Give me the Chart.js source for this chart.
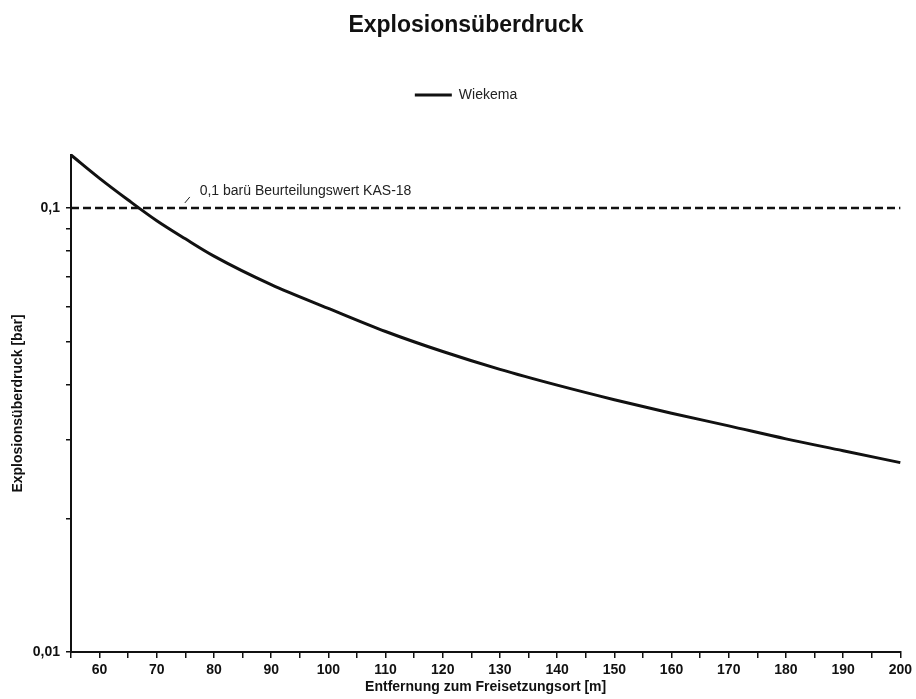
<!DOCTYPE html>
<html>
<head>
<meta charset="utf-8">
<script src="https://cdn.jsdelivr.net/npm/chart.js@4/dist/chart.umd.min.js"></script>
<style>
  html, body { margin: 0; padding: 0; background: #fff; }
  #wrap { width: 916px; height: 699px; }
</style>
</head>
<body>
<div id="wrap"><canvas id="myChart" width="916" height="699"></canvas></div>
<script>
// distance from release point [m] and overpressure [bar]
const distance = [55, 60, 65, 70, 75, 80, 90, 100, 110, 120, 130, 140, 150, 160, 170, 180, 190, 200];
const pressure = [0.1316, 0.1166, 0.1042, 0.0936, 0.0852, 0.0779, 0.0672, 0.0594, 0.0527, 0.0475, 0.0433, 0.0399, 0.0370, 0.0345, 0.0323, 0.0302, 0.0284, 0.0267];

// threshold line (KAS-18 assessment value)
const limitX = [55, 200];
const limitY = [0.1, 0.1];
const limitText = '0,1 barü Beurteilungswert KAS-18';

const yTickValues = [0.01, 0.02, 0.03, 0.04, 0.05, 0.06, 0.07, 0.08, 0.09, 0.1];
const yTickLabels = { 0.01: '0,01', 0.1: '0,1' };

const FONT = 'Liberation Sans, Arial, sans-serif';

// extra room between legend and plot
const legendGap = {
    id: 'legendGap',
    afterInit(chart) {
        const lg = chart.legend;
        const fit = lg.fit;
        lg.fit = function () {
            fit.call(this);
            this.height += 43;
        };
    }
};

// little label with a leader stroke above the dashed line
const limitLabel = {
    id: 'limitLabel',
    afterDatasetsDraw(chart) {
        const x = chart.scales.x, y = chart.scales.y;
        const ctx = chart.ctx;
        const yl = y.getPixelForValue(limitY[0]);
        const x0 = x.getPixelForValue(74.9);
        ctx.save();
        ctx.strokeStyle = '#222';
        ctx.lineWidth = 1;
        ctx.beginPath();
        ctx.moveTo(x0, yl - 5);
        ctx.lineTo(x0 + 5, yl - 11);
        ctx.stroke();
        ctx.fillStyle = '#222';
        ctx.font = '14px ' + FONT;
        ctx.textBaseline = 'middle';
        ctx.fillText(limitText, x.getPixelForValue(77.5), yl - 17);
        ctx.restore();
    }
};

var ctx = document.getElementById('myChart').getContext('2d');
var chart = new Chart(ctx, {
    type: 'line',
    data: {
        datasets: [{
            label: 'Wiekema',
            data: distance.map((d, i) => ({ x: d, y: pressure[i] })),
            borderColor: '#111',
            backgroundColor: '#111',
            borderWidth: 3,
            pointRadius: 0,
            pointStyle: 'line',
            cubicInterpolationMode: 'monotone',
            clip: 4
        }, {
            label: 'limit',
            data: limitX.map((d, i) => ({ x: d, y: limitY[i] })),
            borderColor: '#111',
            borderWidth: 2.5,
            borderDash: [8, 4],
            pointRadius: 0,
            clip: 4
        }]
    },
    options: {
        responsive: false,
        animation: false,
        layout: { padding: { top: 0, left: 16, right: 0, bottom: 0 } },
        plugins: {
            title: {
                display: true,
                text: 'Explosionsüberdruck',
                color: '#111',
                font: { family: FONT, size: 23, weight: 'bold', lineHeight: 1 },
                padding: { top: 14, bottom: 8 }
            },
            legend: {
                labels: {
                    filter: item => item.datasetIndex === 0,
                    usePointStyle: true,
                    pointStyleWidth: 37,
                    padding: 43,
                    color: '#222',
                    font: { family: FONT, size: 14 }
                }
            },
            tooltip: { enabled: false }
        },
        scales: {
            x: {
                type: 'linear',
                min: 55,
                max: 200,
                ticks: {
                    stepSize: 5,
                    autoSkip: false,
                    maxRotation: 0,
                    padding: 4,
                    color: '#111',
                    font: { family: FONT, size: 14, weight: 'bold' },
                    callback: v => (v % 10 === 0 ? String(v) : '')
                },
                grid: { drawOnChartArea: false, drawTicks: true, tickLength: 6, color: '#111', lineWidth: 1.5 },
                border: { display: true, color: '#111', width: 2 },
                title: {
                    display: true,
                    text: 'Entfernung zum Freisetzungsort [m]',
                    color: '#111',
                    font: { family: FONT, size: 14, weight: 'bold' },
                    padding: { top: 0, bottom: 3 }
                },
                afterFit: s => { s.height = 47; }
            },
            y: {
                type: 'logarithmic',
                min: 0.01,
                max: pressure[0],
                afterBuildTicks: s => { s.ticks = yTickValues.map(v => ({ value: v })); },
                ticks: {
                    autoSkip: false,
                    padding: 6,
                    color: '#111',
                    font: { family: FONT, size: 14, weight: 'bold' },
                    callback: v => yTickLabels[v] || ''
                },
                grid: { drawOnChartArea: false, drawTicks: true, tickLength: 5, color: '#111', lineWidth: 1.5 },
                border: { display: true, color: '#111', width: 2 },
                title: {
                    display: true,
                    text: 'Explosionsüberdruck [bar]',
                    color: '#111',
                    font: { family: FONT, size: 14, weight: 'bold' },
                    padding: { top: -6, bottom: 0 }
                },
                afterFit: s => { s.width = 55; }
            }
        }
    },
    plugins: [legendGap, limitLabel]
});
</script>
</body>
</html>
